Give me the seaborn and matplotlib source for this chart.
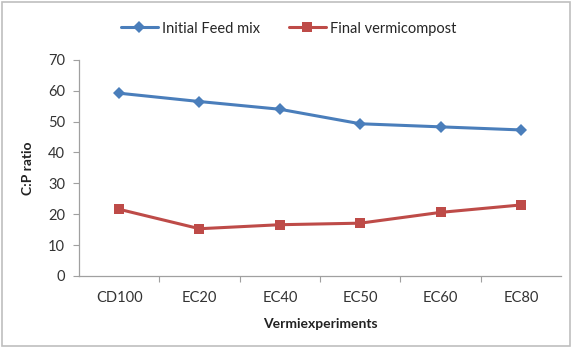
import matplotlib
matplotlib.use("Agg")
import matplotlib.pyplot as plt
from matplotlib.lines import Line2D
import pandas as pd
import seaborn as sns

categories = ["CD100", "EC20", "EC40", "EC50", "EC60", "EC80"]
initial_feed = [59.2, 56.5, 54.0, 49.3, 48.3, 47.3]
final_vermi = [21.6, 15.3, 16.6, 17.1, 20.6, 23.0]
series_names = ["Initial Feed mix", "Final vermicompost"]
y_ticks = [0, 10, 20, 30, 40, 50, 60, 70]

df = pd.DataFrame({
    "Vermiexperiments": categories * 2,
    "C:P ratio": initial_feed + final_vermi,
    "series": [series_names[0]] * len(categories) + [series_names[1]] * len(categories),
})
df["x"] = df["Vermiexperiments"].map({c: i for i, c in enumerate(categories)})

sns.set_theme(style="white")
plt.rcParams["font.family"] = ["Lato", "DejaVu Sans"]

fig = plt.figure(figsize=(5.72, 3.48), dpi=100)
ax = fig.add_axes([0.138, 0.207, 0.843, 0.621])

palette = {series_names[0]: "#4A7EBB", series_names[1]: "#BE4B48"}
markers = {series_names[0]: "D", series_names[1]: "s"}
sizes_m = {series_names[0]: 6, series_names[1]: 7}

sns.lineplot(data=df, x="x", y="C:P ratio", hue="series", style="series",
             markers=markers, dashes=False, palette=palette, linewidth=2.2,
             markersize=7, markeredgewidth=0, ax=ax, legend=False)
for line, name in zip(ax.get_lines(), series_names):
    line.set_markersize(sizes_m[name])

ax.set_xlim(-0.5, len(categories) - 0.5)
ax.set_ylim(0, 70)
ax.set_yticks(y_ticks)
ax.set_xticks(range(len(categories)))
ax.set_xticklabels(categories)
ax.set_xticks([i + 0.5 for i in range(len(categories) - 1)], minor=True)
ax.tick_params(axis="x", which="major", length=0, pad=11, labelsize=10.5, colors="#333333")
ax.tick_params(axis="x", which="minor", length=4, width=0.8, color="#A0A0A0", direction="out", bottom=True)
ax.tick_params(axis="y", length=4, width=0.8, color="#A0A0A0", direction="out", left=True,
               labelsize=10.5, labelcolor="#333333", pad=6)

for side in ["top", "right"]:
    ax.spines[side].set_visible(False)
for side in ["left", "bottom"]:
    ax.spines[side].set_color("#A0A0A0")
    ax.spines[side].set_linewidth(0.9)

ax.set_xlabel("Vermiexperiments", fontsize=10, fontweight="bold", labelpad=9, color="#222222")
ax.set_ylabel("C:P ratio", fontsize=10, fontweight="bold", labelpad=10, color="#222222")

handles = [Line2D([], [], color=palette[n], marker=markers[n], markersize=sizes_m[n],
                  markeredgewidth=0, linewidth=2.2) for n in series_names]
fig.legend(handles, series_names, loc="center", bbox_to_anchor=(0.505, 0.918), ncol=2,
           frameon=False, fontsize=10.5, handlelength=2.5, handletextpad=0.3, columnspacing=2.0)

# light frame around the chart
fig.patches.append(plt.Rectangle((0.004, 0.006), 0.992, 0.988, transform=fig.transFigure,
                                 fill=False, edgecolor="#BFBFBF", linewidth=1.2))

fig.savefig("out.png", dpi=100)
